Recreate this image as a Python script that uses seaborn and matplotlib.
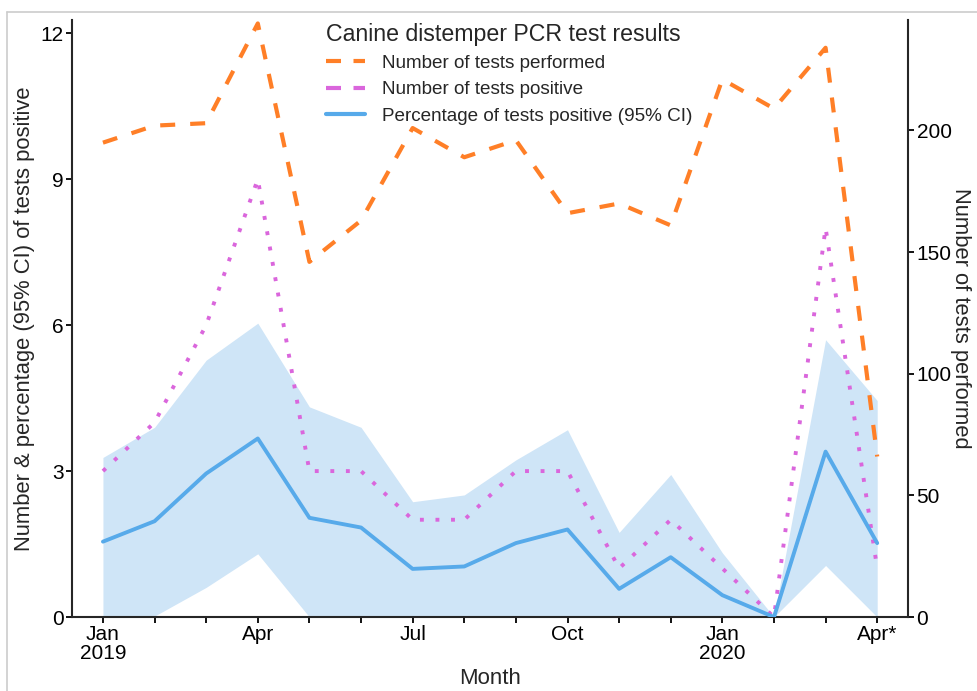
import matplotlib
matplotlib.use("Agg")
import matplotlib.pyplot as plt
from matplotlib.lines import Line2D
import seaborn as sns
import pandas as pd
import numpy as np

months = ["Jan 2019", "Feb 2019", "Mar 2019", "Apr 2019", "May 2019", "Jun 2019",
          "Jul 2019", "Aug 2019", "Sep 2019", "Oct 2019", "Nov 2019", "Dec 2019",
          "Jan 2020", "Feb 2020", "Mar 2020", "Apr 2020"]
tests_performed = [195, 202, 203, 244, 146, 163, 201, 189, 196, 166, 170, 161, 221, 209, 234, 66]
tests_positive = [3, 4, 6, 9, 3, 3, 2, 2, 3, 3, 1, 2, 1, 0, 8, 1]
pct_positive = [1.55, 1.97, 2.95, 3.67, 2.04, 1.84, 0.99, 1.04, 1.52, 1.80, 0.58, 1.23, 0.45, 0.0, 3.40, 1.52]
ci_lower = [0.0, 0.02, 0.61, 1.30, 0.0, 0.0, 0.0, 0.0, 0.0, 0.0, 0.0, 0.0, 0.0, 0.0, 1.06, 0.0]
ci_upper = [3.28, 3.90, 5.28, 6.04, 4.32, 3.90, 2.37, 2.51, 3.23, 3.85, 1.74, 2.93, 1.32, 0.0, 5.70, 4.45]
tick_labels = ["Jan\n2019", "", "", "Apr", "", "", "Jul", "", "", "Oct", "", "", "Jan\n2020", "", "", "Apr*"]

df = pd.DataFrame({
    "idx": np.arange(len(months)),
    "performed": tests_performed,
    "positive": tests_positive,
    "pct": pct_positive,
    "lo": ci_lower,
    "hi": ci_upper,
})

sns.set_theme(style="ticks")
plt.rcParams["font.family"] = ["Liberation Sans", "DejaVu Sans"]

c_orange = "#ff7f27"
c_pink = "#da66dc"
c_blue = "#57aaea"
c_band = "#cfe5f7"

dash_orange = (0, (3.6, 3.6))
dot_pink = (0, (1, 3.0))

fig = plt.figure(figsize=(9.78, 6.91), dpi=100)
ax = fig.add_axes([0.0736, 0.107, 0.855, 0.864])
ax2 = ax.twinx()

ax.fill_between(df["idx"], df["lo"], df["hi"], color=c_band, lw=0, zorder=1)
sns.lineplot(data=df, x="idx", y="pct", ax=ax, color=c_blue, lw=2.8, zorder=3)
sns.lineplot(data=df, x="idx", y="positive", ax=ax, color=c_pink, lw=2.8,
             linestyle=dot_pink, dash_capstyle="butt", zorder=2)
sns.lineplot(data=df, x="idx", y="performed", ax=ax2, color=c_orange, lw=3.0,
             linestyle=dash_orange, zorder=2)

ax.set_xlim(-0.6, 15.6)
ax.set_ylim(0, 12.27)
ax2.set_ylim(0, 245.4)
ax.set_yticks([0, 3, 6, 9, 12])
ax2.set_yticks([0, 50, 100, 150, 200])
ax.set_xticks(df["idx"])
ax.set_xticklabels(tick_labels, linespacing=0.95)

for a in (ax, ax2):
    a.spines["top"].set_visible(False)
    for s in a.spines.values():
        s.set_linewidth(1.5)
    a.tick_params(axis="both", labelsize=15, width=1.3, length=4, pad=2,
                  color="black", labelcolor="black")
ax.spines["right"].set_visible(False)
ax2.spines["left"].set_visible(False)
ax2.spines["bottom"].set_visible(False)

ax.set_xlabel("Month", fontsize=16, labelpad=4)
ax.set_ylabel("Number & percentage (95% CI) of tests positive", fontsize=15.8, labelpad=4)
ax2.set_ylabel("Number of tests performed", fontsize=15.8, rotation=270, labelpad=14)

handles = [
    Line2D([0], [0], color=c_orange, lw=3, linestyle=(0, (3.6, 3.0))),
    Line2D([0], [0], color=c_pink, lw=3, linestyle=(0, (3.6, 3.0))),
    Line2D([0], [0], color=c_blue, lw=3),
]
labels = ["Number of tests performed", "Number of tests positive",
          "Percentage of tests positive (95% CI)"]
leg = fig.legend(handles, labels, title="Canine distemper PCR test results",
                 loc="upper left", bbox_to_anchor=(0.333, 0.967), frameon=False,
                 fontsize=13.6, title_fontsize=16.7, handlelength=2.1,
                 handletextpad=0.9, borderpad=0, borderaxespad=0,
                 labelspacing=0.48, alignment="left")

fig.add_artist(Line2D([0.007, 1.0], [0.983, 0.983], color="#cccccc", lw=1.2, transform=fig.transFigure))
fig.add_artist(Line2D([0.007, 0.007], [0.0, 0.983], color="#cccccc", lw=1.2, transform=fig.transFigure))

fig.savefig("out.png", dpi=100)
